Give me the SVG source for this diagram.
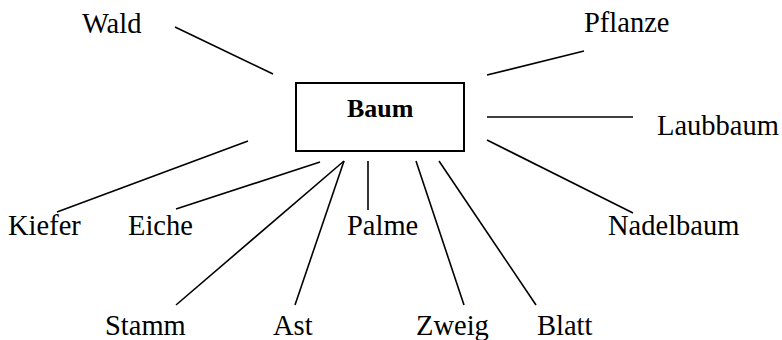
<svg xmlns="http://www.w3.org/2000/svg" width="782" height="340" viewBox="0 0 782 340">
<style>
.lbl{font-family:"Liberation Serif","Times New Roman",serif;font-size:28.5px;fill:#000}
.main{font-family:"Liberation Serif","Times New Roman",serif;font-size:26px;font-weight:bold;fill:#000}
.c line{stroke:#000;stroke-width:1.6}
</style>
<rect width="782" height="340" fill="#fff"/>
<g class="c" id="connectors">
<line x1="175" y1="27" x2="273" y2="74"/>
<line x1="487" y1="75" x2="584" y2="51"/>
<line x1="487" y1="117" x2="633" y2="117"/>
<line x1="487" y1="140" x2="633" y2="213"/>
<line x1="248" y1="141" x2="57" y2="212"/>
<line x1="320" y1="162" x2="176" y2="209"/>
<line x1="344" y1="161" x2="176" y2="305"/>
<line x1="344" y1="161" x2="295" y2="305"/>
<line x1="368" y1="161" x2="368" y2="210"/>
<line x1="416" y1="161" x2="464" y2="305"/>
<line x1="439" y1="161" x2="536" y2="305"/>
</g>
<g id="baum">
<rect x="296" y="83" width="168" height="68" fill="#fff" stroke="#000" stroke-width="2"/>
<text class="main" x="347" y="117">Baum</text>
</g>
<g id="wald"><text class="lbl" x="82" y="33">Wald</text></g>
<g id="pflanze"><text class="lbl" x="584" y="32">Pflanze</text></g>
<g id="laubbaum"><text class="lbl" x="657" y="135">Laubbaum</text></g>
<g id="nadelbaum"><text class="lbl" x="608" y="235">Nadelbaum</text></g>
<g id="kiefer"><text class="lbl" x="8" y="235">Kiefer</text></g>
<g id="eiche"><text class="lbl" x="128" y="235">Eiche</text></g>
<g id="palme"><text class="lbl" x="347" y="235">Palme</text></g>
<g id="stamm"><text class="lbl" x="105" y="335">Stamm</text></g>
<g id="ast"><text class="lbl" x="273" y="335">Ast</text></g>
<g id="zweig"><text class="lbl" x="416" y="335">Zweig</text></g>
<g id="blatt"><text class="lbl" x="537" y="335">Blatt</text></g>
</svg>
